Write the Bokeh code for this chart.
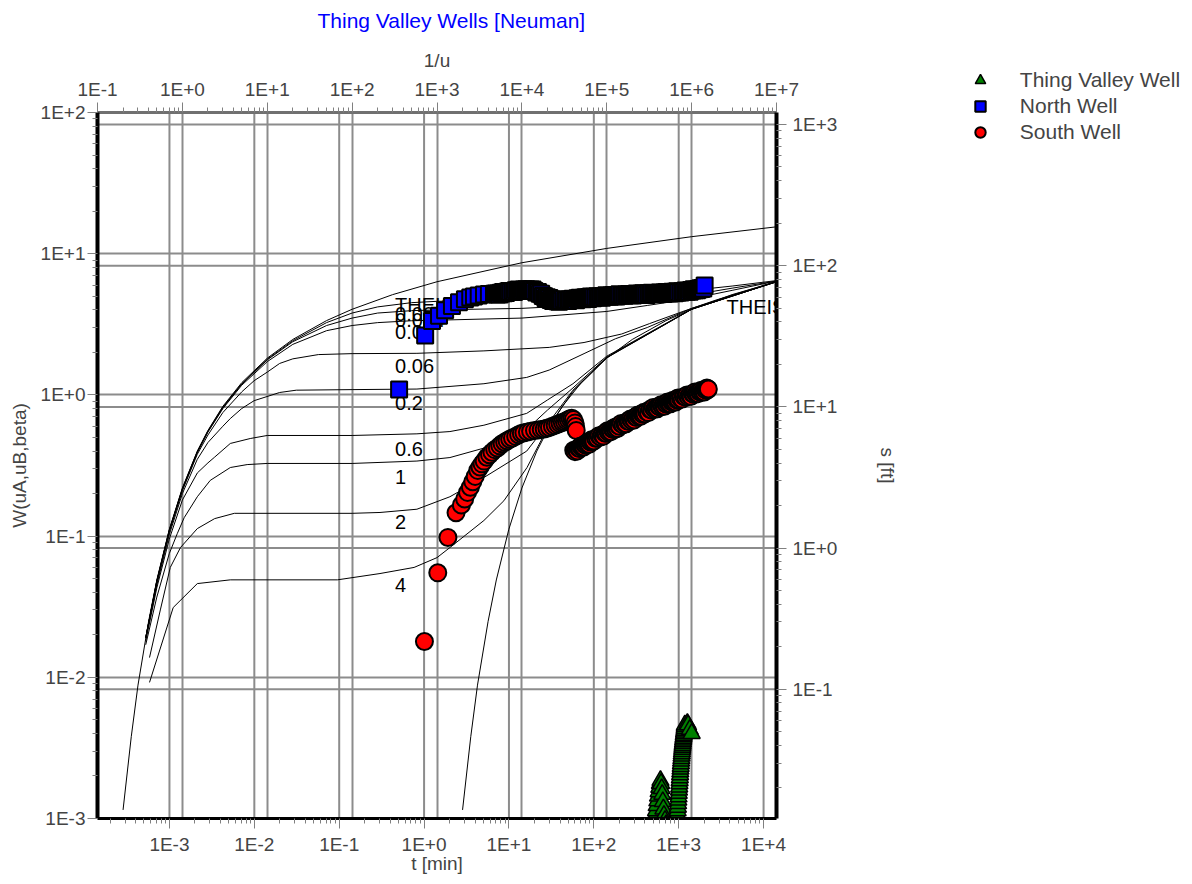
from bokeh.plotting import figure
from bokeh.models import (Range1d, LogAxis, LogScale, FixedTicker, CustomJSTickFormatter,
                          Span, Legend, LegendItem, Title)
from bokeh.embed import file_html
from bokeh.resources import INLINE
from bokeh.core.properties import value

FONT = "Liberation Sans"
FS = "19px"
GRID = "#8c8c8c"

# ---------------- axis ticks ----------------
u_ticks = [1e-1, 1e0, 1e1, 1e2, 1e3, 1e4, 1e5, 1e6, 1e7]
w_ticks = [1e-3, 1e-2, 1e-1, 1e0, 1e1, 1e2]
t_ticks = [1e-3, 1e-2, 1e-1, 1e0, 1e1, 1e2, 1e3, 1e4]
s_ticks = [1e-1, 1e0, 1e1, 1e2, 1e3]

# ---------------- Neuman type curves (1/u , W) ----------------
theis_a_u = [0.2, 0.25, 0.3, 0.4, 0.5, 0.7, 1, 1.5, 2, 3, 5, 10, 20, 50, 100, 300, 1e3, 1e4, 1e5, 1e6, 1e7]
theis_a_w = [0.00115, 0.0038, 0.0088, 0.0249, 0.0489, 0.111, 0.219, 0.40, 0.56, 0.83, 1.22, 1.82, 2.47, 3.36, 4.04, 5.13, 6.33, 8.63, 10.9, 13.2, 15.5]

b0001_u = [0.37, 0.5, 0.7, 1, 1.5, 2, 3, 5, 10, 20, 50, 100, 200, 500, 1e3, 1e4, 1e5, 1e6, 3e6, 1e7]
b0001_w = [0.019, 0.048, 0.110, 0.217, 0.397, 0.555, 0.82, 1.20, 1.79, 2.42, 3.25, 3.8, 4.2, 4.5, 4.6, 4.75, 5.0, 5.5, 5.9, 6.45]

b0004_u = [0.37, 0.5, 0.7, 1, 1.5, 2, 3, 5, 10, 20, 50, 100, 200, 500, 1e3, 1e4, 1e5, 1e6, 3e6, 1e7]
b0004_w = [0.019, 0.048, 0.109, 0.215, 0.394, 0.55, 0.81, 1.19, 1.77, 2.38, 3.1, 3.5, 3.8, 3.95, 4.0, 4.1, 4.4, 5.1, 5.7, 6.4]

b001_u = [0.37, 0.5, 0.7, 1, 1.5, 2, 3, 5, 10, 20, 50, 100, 200, 500, 1e3, 1e4, 1e5, 3e5, 1e6, 3e6, 1e7]
b001_w = [0.019, 0.048, 0.108, 0.213, 0.39, 0.545, 0.80, 1.17, 1.72, 2.28, 2.85, 3.1, 3.25, 3.35, 3.38, 3.5, 3.9, 4.3, 4.8, 5.5, 6.4]

b006_u = [0.37, 0.5, 0.7, 1, 1.5, 2, 3, 5, 7, 10, 14, 20, 40, 100, 580, 3570, 2.1e4, 5.4e4, 1.5e5, 3.2e5, 7.9e5, 1.95e6, 1e7]
b006_w = [0.019, 0.047, 0.107, 0.21, 0.38, 0.52, 0.75, 1.05, 1.26, 1.45, 1.67, 1.80, 1.93, 1.96, 1.97, 2.05, 2.17, 2.35, 2.7, 3.2, 3.9, 4.7, 6.35]

b02_u = [0.37, 0.5, 0.7, 1, 1.5, 2, 3, 3.67, 5, 7, 14, 22, 100, 580, 3570, 1.14e4, 2.1e4, 5.4e4, 1.27e5, 3e5, 1e6, 1e7]
b02_w = [0.019, 0.045, 0.102, 0.20, 0.35, 0.46, 0.60, 0.68, 0.80, 0.91, 1.04, 1.08, 1.09, 1.10, 1.20, 1.33, 1.50, 1.96, 2.5, 3.0, 4.1, 6.34]

b06_u = [0.37, 0.5, 0.7, 1, 1.5, 2, 2.38, 3.67, 6.3, 10, 100, 580, 1420, 3570, 1.14e4, 2e4, 4e4, 1e5, 1e6, 1e7]
b06_w = [0.018, 0.043, 0.095, 0.18, 0.28, 0.33, 0.361, 0.453, 0.491, 0.516, 0.516, 0.53, 0.55, 0.61, 0.74, 0.92, 1.2, 1.88, 4.05, 6.33]

b1_u = [0.37, 0.5, 0.7, 0.87, 1.05, 1.5, 2.13, 3.67, 5.8, 10, 100, 580, 1420, 3570, 1.14e4, 2e4, 4e4, 1e5, 1e6, 1e7]
b1_w = [0.017, 0.037, 0.075, 0.104, 0.135, 0.19, 0.248, 0.306, 0.321, 0.327, 0.327, 0.34, 0.36, 0.42, 0.57, 0.78, 1.12, 1.85, 4.05, 6.33]

b2_u = [0.41, 0.55, 0.72, 0.95, 1.5, 2.4, 4.1, 100, 213, 580, 1420, 3570, 1.14e4, 2e4, 4e4, 1e5, 1e6, 1e7]
b2_w = [0.0138, 0.03, 0.06, 0.083, 0.113, 0.133, 0.145, 0.145, 0.147, 0.155, 0.19, 0.26, 0.40, 0.62, 1.08, 1.84, 4.04, 6.33]

b4_u = [0.41, 0.78, 1.5, 3.67, 67, 213, 537, 1e3, 1420, 3570, 6140, 1.15e4, 2e4, 4e4, 1e5, 1e6, 1e7]
b4_w = [0.0092, 0.0312, 0.0461, 0.049, 0.049, 0.0543, 0.060, 0.0704, 0.083, 0.129, 0.178, 0.306, 0.58, 1.06, 1.83, 4.04, 6.33]

theis_b_u = [2000, 2500, 3000, 4000, 5000, 7000, 1e4, 1.5e4, 2e4, 3e4, 5e4, 1e5, 2e5, 5e5, 1e6, 3e6, 1e7]
theis_b_w = [0.00115, 0.0038, 0.0088, 0.0249, 0.0489, 0.111, 0.219, 0.40, 0.56, 0.83, 1.22, 1.82, 2.47, 3.36, 4.04, 5.13, 6.33]

curve_labels = ["THEIS", "0.001", "0.004", "0.01", "0.06", "0.2", "0.6", "1", "2", "4"]
curve_label_w = [4.30, 3.77, 3.37, 2.81, 1.59, 0.883, 0.417, 0.264, 0.125, 0.0447]

# ---------------- observation data (t [min], s [ft]) ----------------
tv_t = [520, 530, 540, 550, 560, 570, 580, 590, 600, 610, 620, 630, 640,
        650, 660, 670, 690, 710, 740, 780, 820,
        960, 966, 972, 978, 984, 990, 996, 1002, 1008, 1014, 1020, 1026, 1032, 1038, 1044, 1050, 1056,
        1062, 1068, 1074, 1080, 1086, 1092, 1098, 1104, 1110, 1116, 1122, 1128, 1134, 1140, 1146,
        1152, 1158, 1164, 1170, 1176, 1182,
        1265, 1290, 1350, 1422]
tv_s = [0.0118, 0.0128, 0.0138, 0.0150, 0.0162, 0.0175, 0.0188, 0.0202, 0.0215, 0.0226, 0.0215, 0.0198, 0.0180,
        0.0160, 0.0142, 0.0128, 0.0118, 0.0110, 0.0105, 0.0106, 0.0112,
        0.0122, 0.0130, 0.0138, 0.0146, 0.0155, 0.0164, 0.0173, 0.0183, 0.0193, 0.0203, 0.0214, 0.0225, 0.0236, 0.0248, 0.0260, 0.0272, 0.0284,
        0.0297, 0.0310, 0.0323, 0.0336, 0.0349, 0.0362, 0.0375, 0.0388, 0.0400, 0.0412, 0.0424, 0.0436, 0.0448, 0.0460, 0.0472,
        0.0485, 0.0498, 0.0512, 0.0527, 0.0545, 0.0560,
        0.0573, 0.0560, 0.0520, 0.0486]

north_t = [0.508, 1.03, 1.24, 1.50, 1.77, 2.13, 2.58, 3.03, 3.5, 3.87, 4.4, 5.08, 5.8, 6.67,
           7.0, 7.25, 7.5, 7.75, 8.0, 8.25, 8.5, 8.75, 9.0, 9.25, 9.5, 9.75, 10.0,
           10.5, 11, 11.5, 12, 12.5, 13, 13.5, 14, 14.5, 15, 15.5, 16, 16.5, 17, 17.5, 18, 18.5, 19, 19.5, 20,
           21, 22, 23, 24, 25, 26, 27, 28, 29, 30, 31, 32, 33, 34, 35, 36, 37, 38, 39, 40,
           42, 44, 46, 48, 50, 52, 54, 56, 58, 60, 62, 64, 66, 68, 70, 72, 74, 76, 78, 80,
           82, 84, 86, 88, 90, 92, 94, 96, 98, 100,
           105, 110, 115, 120, 125, 130, 135, 140, 145, 150, 155, 160, 165, 170, 175, 180, 185, 190, 195, 200,
           210, 220, 230, 240, 250, 260, 270, 280, 290, 300, 310, 320, 330, 340, 350, 360, 370, 380, 390, 400,
           420, 440, 460, 480, 500, 520, 540, 560, 580, 600, 620, 640, 660, 680, 700, 720, 740, 760, 780, 800,
           820, 840, 860, 880, 900, 920, 940, 960, 980, 1000,
           1050, 1100, 1150, 1200, 1250, 1300, 1350, 1400, 1450, 1500, 1550, 1600, 1650, 1700, 1750, 1800,
           1850, 1900, 1950, 2020]
north_s = [13.3, 32.0, 40.5, 44.2, 48.4, 51.8, 55.2, 57.9, 59.6, 60.6, 61.6, 62.4, 62.9, 63.3,
           63.6, 62.4, 63.5, 62.5, 64.3, 63.7, 65.1, 63.9, 64.5, 64.0, 65.4, 65.0, 66.2,
           65.0, 66.1, 65.1, 67.0, 66.4, 67.8, 66.6, 67.1, 66.4, 67.7, 67.2, 68.2, 66.9, 67.6, 66.3, 67.8, 66.8, 67.8, 66.1, 66.2,
           64.7, 65.0, 63.4, 63.3, 60.9, 60.8, 58.8, 59.7, 58.3, 59.0, 57.2, 57.3, 56.2, 57.2, 56.5, 57.4, 55.9, 56.7, 55.5, 57.2,
           56.5, 57.8, 56.5, 57.0, 56.3, 57.7, 57.2, 58.4, 57.1, 58.1, 57.0, 58.8, 58.1, 59.4, 58.1, 58.6, 57.9, 59.2, 58.7, 59.8,
           58.5, 59.4, 58.2, 59.9, 59.2, 60.5, 59.1, 59.6, 58.9, 60.2,
           59.7, 60.8, 59.6, 60.5, 59.4, 61.1, 60.4, 61.7, 60.4, 60.9, 60.2, 61.5, 61.0, 62.0, 60.7, 61.6, 60.5, 62.1, 61.4, 62.7,
           61.4, 61.9, 61.2, 62.5, 61.9, 63.0, 61.7, 62.5, 61.4, 63.1, 62.3, 63.6, 62.2, 62.7, 62.0, 63.2, 62.7, 63.7, 62.4, 63.2,
           62.1, 63.8, 63.1, 64.3, 63.0, 63.5, 62.7, 64.0, 63.5, 64.5, 63.2, 64.1, 62.9, 64.6, 63.9, 65.1, 63.8, 64.3, 63.5, 64.8,
           64.3, 65.3, 64.0, 64.9, 63.7, 65.4, 64.7, 65.9, 64.6, 65.1,
           64.5, 65.9, 65.5, 66.7, 65.5, 66.5, 65.5, 67.3, 66.7, 68.1, 66.9, 67.5, 66.9, 68.3, 68.0, 69.3,
           68.3, 69.6, 69.0, 72.4]

south_t = [1.01, 1.45, 1.91, 2.38, 2.75, 3.01, 3.25, 3.51, 3.75, 4.0, 4.29, 4.55, 4.81, 5.1, 5.5, 5.9, 6.3,
           6.8, 7.3, 7.8, 8.3, 8.9, 9.5, 10.2, 11, 12, 13, 14, 15, 16.5, 18, 20, 22, 24, 26, 28, 30, 32.5,
           35, 37.5, 40, 42.5, 45, 47.5, 50, 52.5, 55, 57.5, 60, 61, 62,
           58, 60, 62, 64, 66, 68, 70, 72, 74, 76, 78, 80, 82, 84, 86, 88, 90, 92, 94, 96, 98, 100,
           105, 110, 115, 120, 125, 130, 135, 140, 145, 150, 155, 160, 165, 170, 175, 180, 185, 190, 195, 200,
           210, 220, 230, 240, 250, 260, 270, 280, 290, 300, 310, 320, 330, 340, 350, 360, 370, 380, 390, 400,
           420, 440, 460, 480, 500, 520, 540, 560, 580, 600, 620, 640, 660, 680, 700, 720, 740, 760, 780, 800,
           820, 840, 860, 880, 900, 920, 940, 960, 980, 1000,
           1050, 1100, 1150, 1200, 1250, 1300, 1350, 1400, 1450, 1500, 1550, 1600, 1650, 1700, 1750, 1800,
           1850, 1900, 1950, 2000, 2050, 2100, 2150, 2200, 2234]
south_s = [0.218, 0.668, 1.19, 1.78, 2.02, 2.23, 2.48, 2.70, 2.95, 3.22, 3.55, 3.75, 3.95, 4.13, 4.40, 4.58, 4.77,
           4.98, 5.12, 5.30, 5.48, 5.62, 5.76, 5.90, 6.03, 6.18, 6.35, 6.48, 6.56, 6.64, 6.72, 6.80, 6.86, 6.93, 6.98, 7.05, 7.15, 7.28,
           7.40, 7.52, 7.64, 7.75, 7.86, 7.98, 8.10, 8.24, 8.30, 8.15, 7.70, 7.25, 6.80,
           4.93, 4.82, 4.97, 4.88, 5.12, 5.08, 5.29, 5.16, 5.26, 5.20, 5.41, 5.37, 5.56, 5.41, 5.57, 5.44, 5.69, 5.64, 5.85, 5.69, 5.79, 5.73,
           6.00, 6.01, 6.24, 6.12, 6.32, 6.21, 6.53, 6.50, 6.78, 6.61, 6.75, 6.68, 6.96, 6.93, 7.16, 6.98, 7.19, 7.04, 7.37, 7.30,
           7.63, 7.47, 7.65, 7.60, 7.93, 7.90, 8.20, 8.01, 8.26, 8.09, 8.49, 8.43, 8.76, 8.54, 8.70, 8.60, 8.94, 8.89, 9.18, 8.93,
           9.25, 9.11, 9.58, 9.50, 9.89, 9.63, 9.82, 9.70, 10.08, 10.01, 10.34, 10.07, 10.34, 10.10, 10.56, 10.45, 10.83, 10.52, 10.70, 10.54,
           10.93, 10.83, 11.16, 10.84, 11.12, 10.84, 11.31, 11.17, 11.56, 11.23,
           11.46, 11.36, 11.82, 11.75, 12.15, 11.82, 12.15, 11.88, 12.41, 12.29, 12.74, 12.38, 12.58, 12.41, 12.86, 12.75,
           13.14, 12.75, 13.08, 12.75, 13.30, 13.14, 13.60, 13.20, 13.4]

assert len(tv_t) == len(tv_s), (len(tv_t), len(tv_s))
assert len(north_t) == len(north_s), (len(north_t), len(north_s))
assert len(south_t) == len(south_s), (len(south_t), len(south_s))

# ---------------- main figure ----------------
p = figure(x_axis_type="log", y_axis_type="log",
           x_range=Range1d(0.1, 1e7), y_range=Range1d(1e-3, 1e2),
           x_axis_location="above", y_axis_location="left",
           frame_width=679, frame_height=706,
           min_border_left=97, min_border_right=130, min_border_top=112, min_border_bottom=56,
           output_backend="svg", toolbar_location=None,
           title="Thing Valley Wells [Neuman]")
p.background_fill_color = "white"
p.border_fill_color = "white"
p.outline_line_color = None

p.title.text_color = "#0000ff"
p.title.text_font = FONT
p.title.text_font_size = "21px"
p.title.text_font_style = "normal"
p.title.align = "left"
p.title.offset = 220
p.title.standoff = 8

p.extra_x_ranges = {"t": Range1d(1.42e-4, 1.42e4)}
p.extra_x_scales = {"t": LogScale()}
p.extra_y_ranges = {"s": Range1d(1.216e-2, 1.216e3)}
p.extra_y_scales = {"s": LogScale()}

ax_u = p.xaxis[0]
ax_w = p.yaxis[0]
ax_t = LogAxis(x_range_name="t")
ax_s = LogAxis(y_range_name="s")
p.add_layout(ax_t, "below")
p.add_layout(ax_s, "right")
# blank gap between the top axis and the title
p.add_layout(Title(text=" ", text_font_size="2px", standoff=7), "above")

fmt_code = """
const e = Math.round(Math.log10(tick));
return "1E" + (e < 0 ? "-" : "+") + Math.abs(e);
"""


def minor_list(lo, hi):
    out = []
    for n in range(lo, hi + 1):
        for k in range(2, 10):
            out.append(k * 10.0 ** n)
    return out


def style(ax, ticks, minors, label, lw, lcolor):
    ax.ticker = FixedTicker(ticks=ticks, minor_ticks=minors)
    ax.formatter = CustomJSTickFormatter(code=fmt_code)
    ax.axis_label = label
    ax.axis_label_text_font = FONT
    ax.axis_label_text_font_size = FS
    ax.axis_label_text_font_style = "normal"
    ax.major_label_text_font = FONT
    ax.major_label_text_font_size = FS
    ax.major_tick_in = 0
    ax.major_tick_out = 10
    ax.minor_tick_in = 0
    ax.minor_tick_out = 5
    ax.major_tick_line_color = "#808080"
    ax.minor_tick_line_color = "#808080"
    ax.axis_line_color = lcolor
    ax.axis_line_width = lw


style(ax_u, u_ticks, minor_list(-1, 6), "1/u", 3, "#707070")
style(ax_w, w_ticks, minor_list(-3, 1), "W(uA,uB,beta)", 4, "black")
style(ax_t, t_ticks, minor_list(-4, 4), "t [min]", 3, "black")
style(ax_s, s_ticks, minor_list(-2, 2), "s [ft]", 4, "black")
ax_u.major_label_standoff = 3
ax_u.axis_label_standoff = 5
ax_w.major_label_standoff = 2
ax_w.axis_label_standoff = 8
ax_t.major_label_standoff = 5
ax_t.axis_label_standoff = -5
ax_s.major_label_standoff = 6
ax_s.axis_label_standoff = 37

# grids: primary (1/u, W) and secondary (t, s)
p.xgrid.ticker = FixedTicker(ticks=u_ticks)
p.ygrid.ticker = FixedTicker(ticks=w_ticks)
for g in (p.xgrid, p.ygrid):
    g.grid_line_color = GRID
    g.grid_line_width = 2
    g.grid_line_alpha = 1.0
for tv in t_ticks:
    p.add_layout(Span(location=tv, dimension="height", x_range_name="t",
                      line_color=GRID, line_width=2, level="underlay"))
for sv in s_ticks:
    p.add_layout(Span(location=sv, dimension="width", y_range_name="s",
                      line_color=GRID, line_width=2, level="underlay"))

# type curves
for cu, cw in [(theis_a_u, theis_a_w), (b0001_u, b0001_w), (b0004_u, b0004_w), (b001_u, b001_w),
               (b006_u, b006_w), (b02_u, b02_w), (b06_u, b06_w), (b1_u, b1_w), (b2_u, b2_w),
               (b4_u, b4_w), (theis_b_u, theis_b_w)]:
    p.line(cu, cw, line_color="black", line_width=1)

p.text(x=[321] * len(curve_labels), y=curve_label_w, text=curve_labels,
       text_font=value(FONT), text_font_size=value("20px"), text_color="black",
       text_baseline="middle", text_align="left")
p.text(x=[2.58e6], y=[4.16], text=["THEIS"],
       text_font=value(FONT), text_font_size=value("20px"), text_color="black",
       text_baseline="middle", text_align="left")

# observation data
r_tv = p.scatter(tv_t, tv_s, x_range_name="t", y_range_name="s", marker="triangle",
                 size=17, fill_color="#008000", line_color="black", line_width=1.5)
r_n = p.scatter(north_t, north_s, x_range_name="t", y_range_name="s", marker="square",
                size=16, fill_color="#0000ff", line_color="black", line_width=2.0)
r_s = p.scatter(south_t, south_s, x_range_name="t", y_range_name="s", marker="circle",
                size=17, fill_color="#ff0000", line_color="black", line_width=2.0)

legend = Legend(items=[LegendItem(label="Thing Valley Well", renderers=[r_tv]),
                       LegendItem(label="North Well", renderers=[r_n]),
                       LegendItem(label="South Well", renderers=[r_s])],
                location=(-171, 673), glyph_width=40, glyph_height=26, spacing=0, padding=0,
                margin=0, label_standoff=20, border_line_color=None, background_fill_alpha=0,
                label_text_font=FONT, label_text_font_size="21px")
p.add_layout(legend, "right")

open("out.html", "w").write(file_html(p, INLINE, "Thing Valley Wells [Neuman]"))
